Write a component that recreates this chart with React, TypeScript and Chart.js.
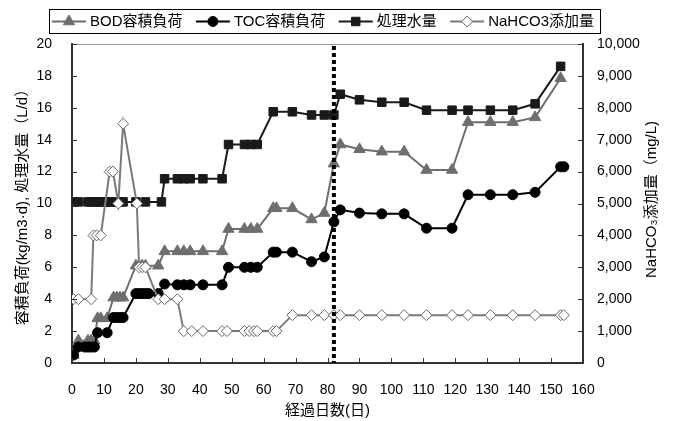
import React, { useEffect, useRef } from 'react';
import { Chart, registerables } from 'chart.js';
import { drawPoint } from 'chart.js/helpers';

Chart.register(...registerables);

const FONT = "'Liberation Sans', 'Noto Sans CJK JP', sans-serif";

// ---- data ----
const seriesLabels = ['BOD容積負荷', 'TOC容積負荷', '処理水量', 'NaHCO3添加量'];
const xTitle = '経過日数(日)';
const yTitle = '容積負荷(kg/m3·d), 処理水量（L/d）';
const y2Title = 'NaHCO₃添加量（mg/L)';
const markerDay = 82;

const bodDays = [0.5, 2, 5, 6, 7, 8, 9, 11, 13, 14, 15, 16, 20, 21, 22, 23, 27, 29, 33, 35, 37, 41, 47, 49, 54, 56, 58, 63, 64, 69, 75, 79, 82, 84, 90, 97, 104, 111, 119, 124, 131, 138, 145, 153];
const bodValues = [0.5, 1.4, 1.4, 1.4, 1.4, 2.8, 2.8, 2.8, 4.1, 4.1, 4.1, 4.1, 6.1, 6.1, 6.1, 6.1, 6.1, 7.0, 7.0, 7.0, 7.0, 7.0, 7.0, 8.4, 8.4, 8.4, 8.4, 9.7, 9.7, 9.7, 9.0, 9.4, 12.5, 13.7, 13.4, 13.25, 13.25, 12.1, 12.1, 15.1, 15.1, 15.1, 15.4, 17.85];

const tocDays = [0.5, 2, 4, 5, 6, 7, 8, 11, 13, 14, 15, 16, 20, 21, 22, 23, 24, 27, 29, 33, 35, 37, 41, 47, 49, 54, 56, 58, 63, 64, 69, 75, 79, 82, 84, 90, 97, 104, 111, 119, 124, 131, 138, 145, 153, 154];
const tocValues = [0.5, 1.0, 1.0, 1.0, 1.0, 1.0, 1.9, 1.9, 2.85, 2.85, 2.85, 2.85, 4.35, 4.35, 4.35, 4.35, 4.35, 4.35, 4.95, 4.9, 4.9, 4.9, 4.9, 4.9, 6.0, 6.0, 6.0, 6.0, 6.95, 6.95, 6.95, 6.35, 6.65, 8.85, 9.6, 9.4, 9.35, 9.35, 8.45, 8.45, 10.55, 10.55, 10.55, 10.7, 12.3, 12.3];

const flowDays = [0.5, 2, 5, 6, 7, 8, 9, 10, 11, 12, 13, 14, 15, 16, 20, 23, 28, 29, 33, 35, 37, 41, 47, 49, 54, 56, 58, 63, 69, 75, 79, 82, 84, 90, 97, 104, 111, 119, 124, 131, 138, 145, 153];
const flowValues = [10.1, 10.1, 10.1, 10.1, 10.1, 10.1, 10.1, 10.1, 10.1, 10.1, 10.1, 10.1, 10.1, 10.1, 10.1, 10.1, 10.1, 11.55, 11.55, 11.55, 11.55, 11.55, 11.55, 13.7, 13.7, 13.7, 13.7, 15.75, 15.75, 15.55, 15.55, 15.55, 16.85, 16.5, 16.35, 16.35, 15.85, 15.85, 15.85, 15.85, 15.85, 16.25, 18.6];

const nahco3Days = [0.5, 2, 6, 6.7, 7.7, 9, 11.8, 12.8, 14.5, 16, 20.3, 21, 22, 23, 27, 29, 33, 35, 37.5, 41, 47, 48.5, 54, 55.5, 57, 58, 63, 64, 69, 75, 79, 82, 84, 90, 97, 104, 111, 119, 124, 131, 138, 145, 153, 154];
const nahco3Values = [2000, 2000, 2000, 4000, 4000, 4000, 6000, 6000, 5000, 7500, 5000, 3000, 3000, 3000, 2000, 2000, 2000, 1000, 1000, 1000, 1000, 1000, 1000, 1000, 1000, 1000, 1000, 1000, 1500, 1500, 1500, 1500, 1500, 1500, 1500, 1500, 1500, 1500, 1500, 1500, 1500, 1500, 1500, 1500];

const toPoints = (days: number[], vals: number[]) => days.map((d, i) => ({ x: d, y: vals[i] }));

const decorPlugin = {
  id: 'decor',
  afterDatasetsDraw(chart: any) {
    const { ctx, chartArea: a, scales } = chart;
    const x = scales.x.getPixelForValue(markerDay);
    ctx.save();
    ctx.strokeStyle = '#000';
    ctx.lineWidth = 4;
    ctx.setLineDash([4, 3]);
    ctx.beginPath();
    ctx.moveTo(x, a.top + 2);
    ctx.lineTo(x, a.bottom);
    ctx.stroke();
    ctx.restore();
  },
  afterDraw(chart: any) {
    const { ctx, chartArea: a, scales } = chart;
    ctx.save();
    // top border
    ctx.strokeStyle = '#9a9a9a';
    ctx.lineWidth = 1;
    ctx.beginPath();
    ctx.moveTo(a.left, a.top + 0.5);
    ctx.lineTo(a.right, a.top + 0.5);
    ctx.stroke();
    // inward ticks
    ctx.strokeStyle = '#333';
    ctx.lineWidth = 1;
    const line = (x1: number, y1: number, x2: number, y2: number) => {
      ctx.beginPath();
      ctx.moveTo(x1, y1);
      ctx.lineTo(x2, y2);
      ctx.stroke();
    };
    scales.x.ticks.forEach((t: any) => {
      const p = Math.round(scales.x.getPixelForValue(t.value)) + 0.5;
      line(p, a.bottom, p, a.bottom - 5);
    });
    scales.y.ticks.forEach((t: any) => {
      const p = Math.round(scales.y.getPixelForValue(t.value)) + 0.5;
      line(a.left, p, a.left + 5, p);
    });
    scales.y1.ticks.forEach((t: any) => {
      const p = Math.round(scales.y1.getPixelForValue(t.value)) + 0.5;
      line(a.right - 5, p, a.right, p);
    });
    // right axis title (reads bottom to top)
    ctx.save();
    ctx.translate(a.right + 69, (a.top + a.bottom) / 2 - 4);
    ctx.rotate(-Math.PI / 2);
    ctx.font = `15px ${FONT}`;
    ctx.fillStyle = '#000';
    ctx.textAlign = 'center';
    ctx.textBaseline = 'middle';
    ctx.fillText(y2Title, 0, 0);
    ctx.restore();

    // legend box
    const boxL = 49, boxR = 600, boxT = 9, boxB = 33;
    ctx.strokeStyle = '#000';
    ctx.lineWidth = 1;
    ctx.strokeRect(boxL + 0.5, boxT + 0.5, boxR - boxL, boxB - boxT);
    ctx.font = `15px ${FONT}`;
    ctx.textBaseline = 'middle';
    ctx.textAlign = 'left';
    const sampleW = 34, gapA = 4;
    const dss = chart.data.datasets;
    const widths = dss.map((d: any) => ctx.measureText(d.label).width);
    const inner = (boxR - 6) - (boxL + 3);
    const used = widths.reduce((s: number, w: number) => s + sampleW + gapA + w, 0);
    const gapB = Math.max(6, (inner - used) / (dss.length - 1));
    let cx = boxL + 3;
    const cy = (boxT + boxB) / 2 + 0.5;
    dss.forEach((d: any, i: number) => {
      ctx.strokeStyle = d.borderColor;
      ctx.lineWidth = 2;
      ctx.beginPath();
      ctx.moveTo(cx, cy);
      ctx.lineTo(cx + sampleW, cy);
      ctx.stroke();
      ctx.fillStyle = d.pointBackgroundColor;
      ctx.strokeStyle = d.pointBorderColor;
      ctx.lineWidth = 1;
      drawPoint(ctx, { pointStyle: d.pointStyle, radius: d.pointRadius, rotation: 0, borderWidth: 1 }, cx + sampleW / 2, cy);
      ctx.fillStyle = '#000';
      ctx.fillText(d.label, cx + sampleW + gapA, cy);
      cx += sampleW + gapA + widths[i] + gapB;
    });
    ctx.restore();
  },
};

export default function App() {
  const ref = useRef<HTMLCanvasElement>(null);
  useEffect(() => {
    const tickFont = { size: 14, family: FONT };
    const titleFont = { size: 15, family: FONT };
    const chart = new Chart(ref.current as HTMLCanvasElement, {
      type: 'line',
      data: {
        datasets: [
          {
            label: seriesLabels[0],
            data: toPoints(bodDays, bodValues),
            yAxisID: 'y',
            borderColor: '#6e6e6e',
            borderWidth: 2,
            pointStyle: 'triangle',
            pointRadius: 6.5,
            pointBackgroundColor: '#6e6e6e',
            pointBorderColor: '#6e6e6e',
            pointBorderWidth: 1,
            order: 4,
          },
          {
            label: seriesLabels[1],
            data: toPoints(tocDays, tocValues),
            yAxisID: 'y',
            borderColor: '#000',
            borderWidth: 2,
            pointStyle: 'circle',
            pointRadius: 5,
            pointBackgroundColor: '#000',
            pointBorderColor: '#000',
            pointBorderWidth: 1,
            order: 3,
          },
          {
            label: seriesLabels[2],
            data: toPoints(flowDays, flowValues),
            yAxisID: 'y',
            borderColor: '#1a1a1a',
            borderWidth: 2,
            pointStyle: 'rect',
            pointRadius: 6,
            pointBackgroundColor: '#1a1a1a',
            pointBorderColor: '#1a1a1a',
            pointBorderWidth: 1,
            order: 2,
          },
          {
            label: seriesLabels[3],
            data: toPoints(nahco3Days, nahco3Values),
            yAxisID: 'y1',
            borderColor: '#7a7a7a',
            borderWidth: 2,
            pointStyle: 'rectRot',
            pointRadius: 5.5,
            pointBackgroundColor: '#fff',
            pointBorderColor: '#666',
            pointBorderWidth: 1,
            order: 1,
          },
        ],
      },
      options: {
        responsive: false,
        animation: false,
        devicePixelRatio: 1,
        events: [],
        layout: { padding: { top: 44, left: 0, right: 0, bottom: 0 } },
        plugins: { legend: { display: false }, tooltip: { enabled: false } },
        scales: {
          x: {
            type: 'linear',
            min: 0,
            max: 160,
            ticks: { stepSize: 10, padding: 19, color: '#000', font: tickFont, maxRotation: 0, autoSkip: false },
            grid: { display: false, drawTicks: false },
            border: { color: '#333', width: 2 },
            title: { display: true, text: xTitle, color: '#000', font: titleFont, padding: { top: 0, bottom: 1 } },
            afterFit: (s: any) => { s.height = 58; },
          },
          y: {
            type: 'linear',
            position: 'left',
            min: 0,
            max: 20,
            ticks: { stepSize: 2, padding: 20, color: '#000', font: tickFont },
            grid: { display: false, drawTicks: false },
            border: { color: '#333', width: 2 },
            title: { display: true, text: yTitle, color: '#000', font: titleFont, padding: { top: 14, bottom: 0 } },
            afterFit: (s: any) => { s.width = 72; },
          },
          y1: {
            type: 'linear',
            position: 'right',
            min: 0,
            max: 10000,
            ticks: { stepSize: 1000, padding: 14, color: '#000', font: tickFont },
            grid: { display: false, drawTicks: false },
            border: { color: '#333', width: 2 },
            afterFit: (s: any) => { s.width = 90; },
          },
        },
      },
      plugins: [decorPlugin],
    } as any);
    return () => chart.destroy();
  }, []);
  return (
    <div style={{ position: 'absolute', left: 0, top: 0, width: 673, height: 421, background: '#fff' }}>
      <canvas ref={ref} width={673} height={421} style={{ display: 'block' }} />
    </div>
  );
}
